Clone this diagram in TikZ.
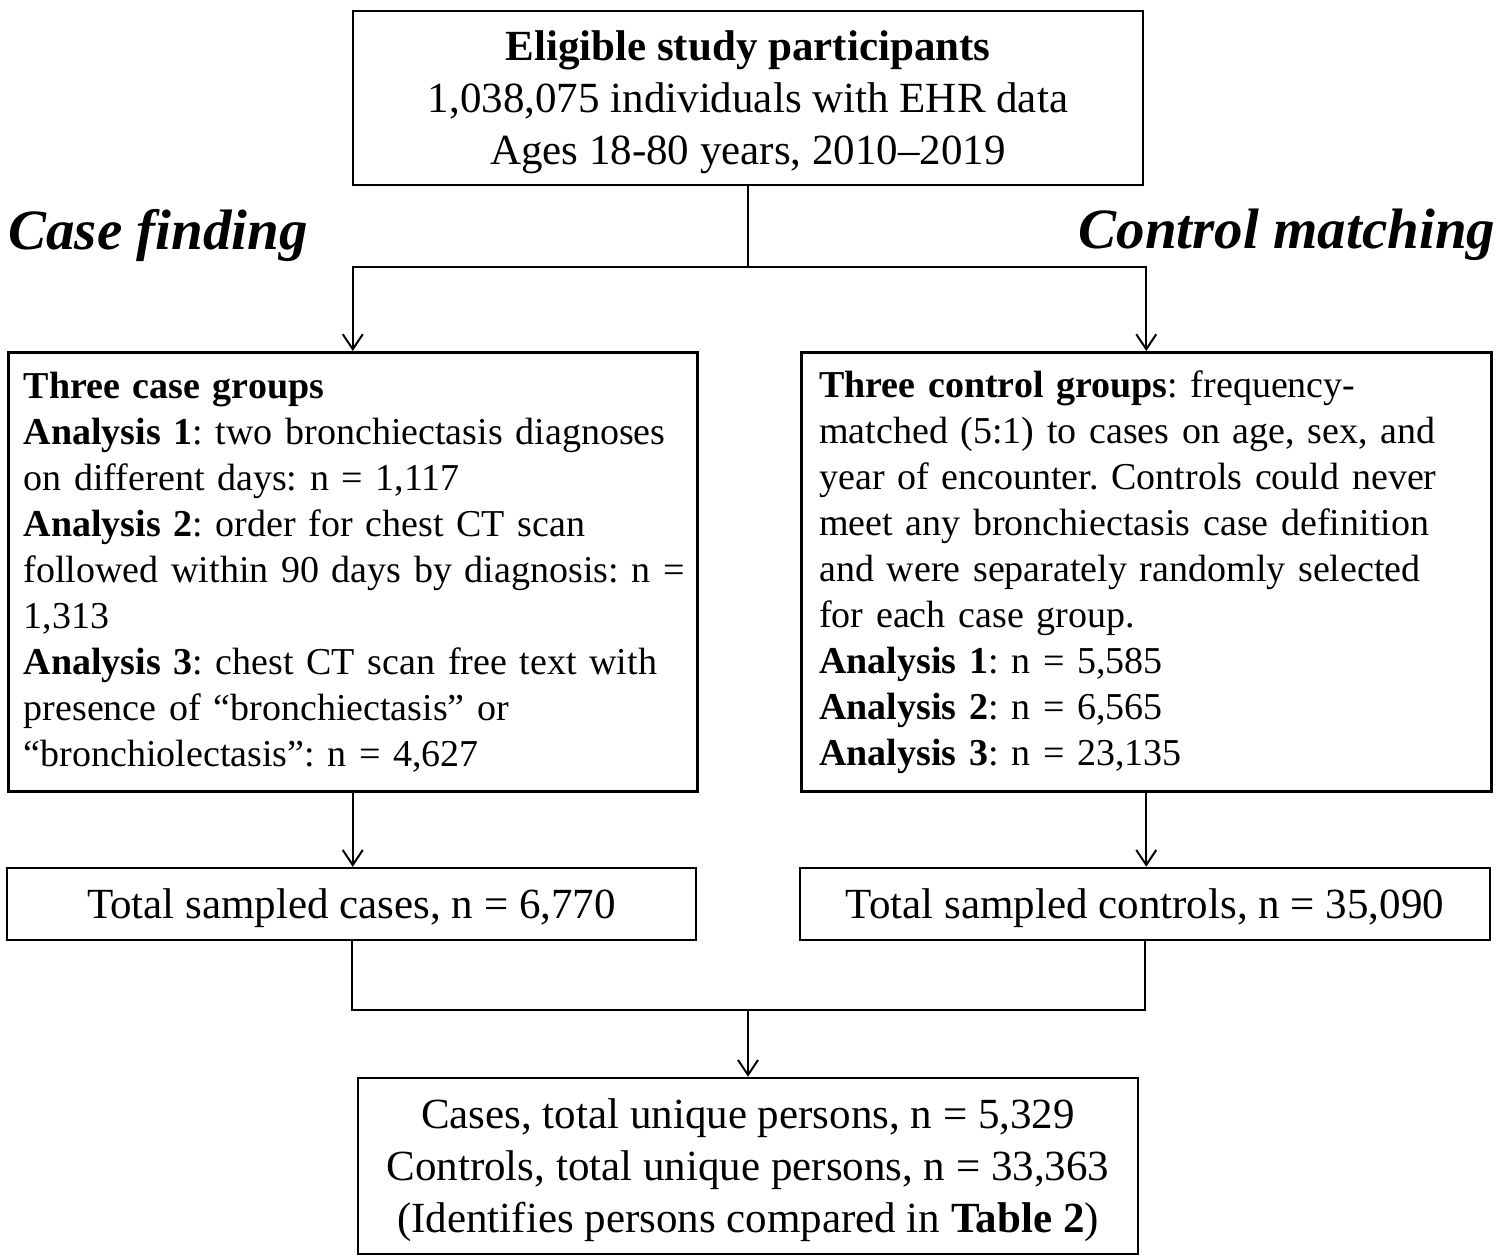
\documentclass[tikz,border=0pt]{standalone}
\usepackage{fontspec}
\setmainfont{Liberation Serif}
\usetikzlibrary{arrows.meta}
\frenchspacing
\newcommand{\firstline}{\rule{0pt}{39pt}}
\begin{document}
\begin{tikzpicture}[x=1pt,y=-1pt,
  box/.style={draw,line width=2.5pt,inner sep=0pt,align=center,font=\fontsize{43}{52}\selectfont},
  groupbox/.style={draw,line width=2.5pt,anchor=north west,minimum height=439pt,inner xsep=15.5pt,inner ysep=0pt,text width=658pt,align=left,font=\fontsize{38}{46}\selectfont},
  head/.style={font=\fontsize{57}{68}\selectfont\bfseries\itshape},
  link/.style={line width=2pt},
  arr/.style={link,-{Straight Barb[length=15pt,width=20pt,line width=2pt]}}]
  \useasboundingbox (0,0) rectangle (1500,1258);

  \node[box,minimum width=790pt,minimum height=174pt] (elig) at (748,98)
    {\firstline\textbf{Eligible study participants}\\1,038,075 individuals with EHR data\\Ages 18-80 years, 2010--2019};

  \node[head] (casehead) at (158,235) {Case finding};
  \node[head] (ctrlhead) at (1287,235) {Control matching};

  \node[groupbox] (cases) at (7,351)
    {\textbf{Three case groups}\\
     \textbf{Analysis 1}: two bronchiectasis diagnoses\\
     on different days: n = 1,117\\
     \textbf{Analysis 2}: order for chest CT scan\\
     \mbox{followed within 90 days by diagnosis: n =}\\
     1,313\\
     \textbf{Analysis 3}: chest CT scan free text with\\
     presence of “bronchiectasis” or\\
     “bronchiolectasis”: n = 4,627};
  \node[groupbox,inner xsep=18pt,text width=654pt] (controls) at (800,351)
    {\textbf{Three control groups}: frequency-\\
     matched (5:1) to cases on age, sex, and\\
     year of encounter. Controls could never\\
     meet any bronchiectasis case definition\\
     and were separately randomly selected\\
     for each case group.\\
     \textbf{Analysis 1}: n = 5,585\\
     \textbf{Analysis 2}: n = 6,565\\
     \textbf{Analysis 3}: n = 23,135};

  \node[box,minimum width=689pt,minimum height=72pt] (casetot) at (351.5,904) {\firstline Total sampled cases, n = 6,770};
  \node[box,minimum width=690pt,minimum height=72pt] (ctrltot) at (1145,904) {\firstline Total sampled controls, n = 35,090};

  \node[box,minimum width=780pt,minimum height=176pt] (unique) at (748,1166)
    {\firstline Cases, total unique persons, n = 5,329\\Controls, total unique persons, n = 33,363\\(Identifies persons compared in \textbf{Table 2})};

  \coordinate (split) at (748,267);
  \coordinate (join) at (748,1010);

  \draw[link] (elig.south) -- (split);
  \draw[arr] (split) -| (cases.north);
  \draw[arr] (split) -| (controls.north);
  \draw[arr] (cases.south) -- (cases.south |- casetot.north);
  \draw[arr] (controls.south) -- (controls.south |- ctrltot.north);
  \draw[link] (casetot.south) |- (join) -| (ctrltot.south);
  \draw[arr] (join) -- (unique.north);
\end{tikzpicture}
\end{document}
